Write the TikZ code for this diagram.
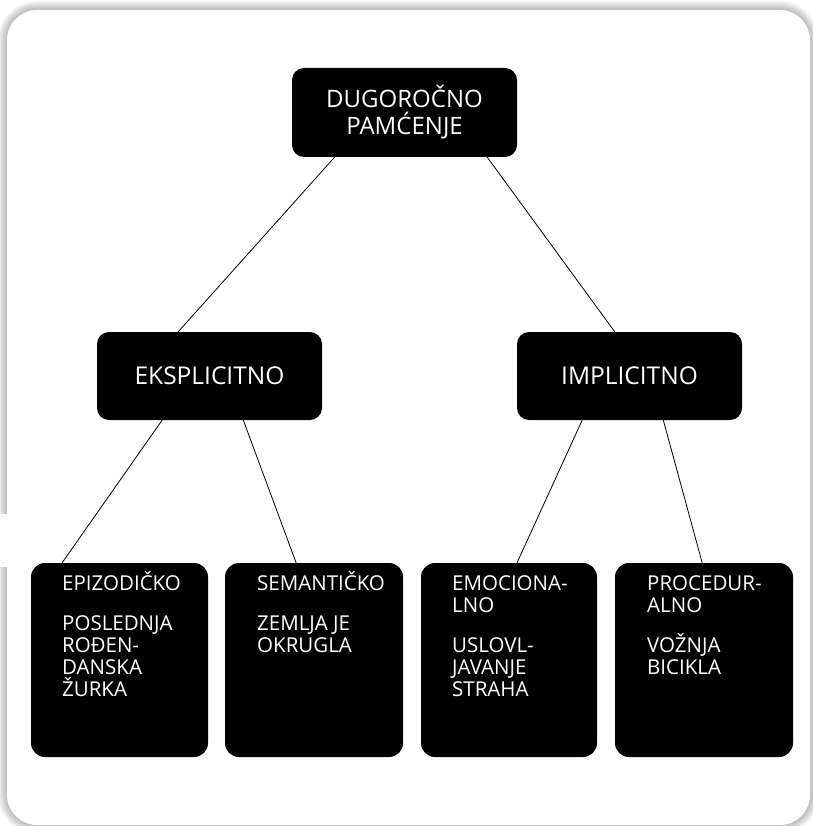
\documentclass[tikz,border=0pt]{standalone}
\usepackage{fontspec}
\setmainfont{Open Sans}
\usetikzlibrary{calc}
\begin{document}
\begin{tikzpicture}[x=1pt,y=-1pt,
  box/.style={fill=black, text=white, rounded corners=12pt, inner sep=0pt, outer sep=0pt},
  leaf/.style={box, minimum width=177pt, minimum height=194pt, rounded corners=14pt},
  mid/.style={box, minimum width=225pt, minimum height=88pt, font=\fontsize{24.5}{28}\selectfont},
  leaftext/.style={text=white, anchor=base west, align=left, inner sep=0pt, font=\fontsize{20.5}{22}\selectfont},
  link/.style={line width=0.8pt}]
\useasboundingbox (0,0) rectangle (812,826);
% frame with soft shadow
\foreach \i in {1,...,9}{
  \fill[black,opacity=0.03,rounded corners=30pt+\i pt] (7-\i,10-\i) rectangle (810+\i,825+\i);
}
\fill[white,rounded corners=30pt] (7,10) rectangle (810,825);
\fill[white] (0,514) rectangle (7,567);

% nodes
\node[box, minimum width=225pt, minimum height=89pt, align=center,
      font=\fontsize{24}{27}\selectfont] (top) at (404.5,112.5) {DUGOROČNO\\PAMĆENJE};
\node[mid] (eks) at (209.5,376) {EKSPLICITNO};
\node[mid] (imp) at (629.5,376) {IMPLICITNO};

\node[leaf, minimum width=177pt] (b1) at (119.5,660) {};
\node[leaf, minimum width=178pt] (b2) at (314,660) {};
\node[leaf, minimum width=176pt] (b3) at (509,660) {};
\node[leaf, minimum width=178pt] (b4) at (704,660) {};

\node[leaftext] (t1) at (62,696) {EPIZODIČKO\\[18pt]POSLEDNJA\\ROĐEN-\\DANSKA\\ŽURKA};
\node[leaftext] (t2) at (257,652) {SEMANTIČKO\\[18pt]ZEMLJA JE\\OKRUGLA};
\node[leaftext] (t3) at (452,696) {EMOCIONA-\\LNO\\[18pt]USLOVL-\\JAVANJE\\STRAHA};
\node[leaftext] (t4) at (647,674) {PROCEDUR-\\ALNO\\[18pt]VOŽNJA\\BICIKLA};

% connectors
\draw[link] ($(top.south west)!0.19!(top.south east)$) -- ($(eks.north west)!0.36!(eks.north east)$);
\draw[link] ($(top.south west)!0.867!(top.south east)$) -- ($(imp.north west)!0.435!(imp.north east)$);
\draw[link] ($(eks.south west)!0.29!(eks.south east)$) -- ($(b1.north west)!0.175!(b1.north east)$);
\draw[link] ($(eks.south west)!0.65!(eks.south east)$) -- ($(b2.north west)!0.40!(b2.north east)$);
\draw[link] ($(imp.south west)!0.29!(imp.south east)$) -- ($(b3.north west)!0.545!(b3.north east)$);
\draw[link] ($(imp.south west)!0.65!(imp.south east)$) -- ($(b4.north west)!0.49!(b4.north east)$);
\end{tikzpicture}
\end{document}
